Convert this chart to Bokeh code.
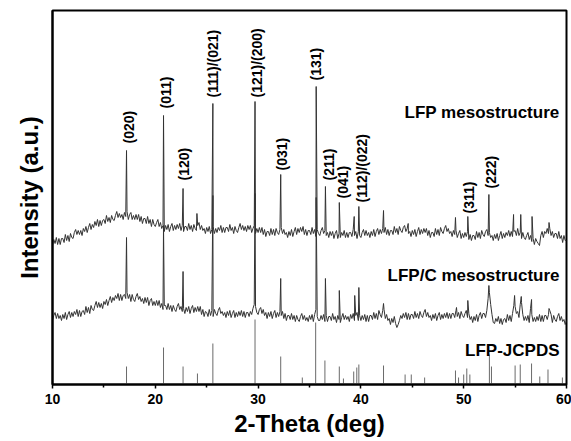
import numpy as np
from bokeh.plotting import figure
from bokeh.models import Range1d, ColumnDataSource, Label, FixedTicker
from bokeh.core.properties import value
from bokeh.embed import file_html
from bokeh.resources import INLINE

FONT = "Liberation Sans"

# 2-theta sampling grid (deg), step 0.125
two_theta = np.linspace(10, 60, 401)

# LFP mesostructure: background values on the grid (a.u.), one row per degree
lfp_base = [
    139, 145, 141, 147, 140, 146, 140, 146,
    146, 142, 150, 144, 149, 143, 151, 147,
    146, 152, 155, 150, 154, 150, 154, 149,
    156, 153, 158, 152, 157, 161, 155, 160,
    157, 163, 159, 165, 158, 164, 159, 164,
    165, 161, 169, 163, 167, 162, 169, 165,
    164, 169, 173, 167, 171, 167, 170, 165,
    172, 168, 173, 165, 170, 172, 165, 169,
    165, 170, 165, 170, 163, 168, 161, 166,
    166, 161, 168, 161, 165, 158, 165, 160,
    158, 162, 165, 158, 162, 156, 159, 153,
    159, 155, 160, 153, 158, 161, 154, 159,
    155, 160, 156, 161, 154, 159, 153, 158,
    158, 154, 161, 155, 159, 153, 160, 156,
    154, 159, 162, 155, 159, 154, 156, 151,
    157, 153, 158, 151, 155, 158, 151, 156,
    152, 157, 154, 159, 152, 157, 152, 157,
    157, 153, 160, 154, 157, 151, 158, 154,
    152, 157, 161, 155, 159, 154, 158, 153,
    159, 155, 159, 152, 156, 159, 151, 156,
    152, 157, 152, 157, 150, 155, 148, 153,
    153, 149, 156, 150, 155, 149, 156, 152,
    150, 155, 157, 151, 155, 150, 152, 147,
    153, 149, 155, 148, 153, 157, 150, 156,
    152, 157, 153, 158, 150, 155, 149, 154,
    154, 150, 157, 151, 155, 148, 155, 151,
    149, 154, 157, 151, 154, 149, 152, 147,
    153, 149, 153, 146, 151, 154, 146, 151,
    147, 152, 149, 154, 147, 152, 147, 152,
    152, 148, 155, 149, 153, 146, 153, 149,
    147, 152, 155, 149, 154, 149, 152, 147,
    153, 149, 155, 148, 153, 156, 150, 155,
    151, 156, 152, 157, 150, 155, 149, 154,
    154, 150, 158, 152, 156, 150, 158, 154,
    152, 157, 159, 153, 156, 151, 153, 148,
    154, 150, 155, 148, 153, 157, 150, 155,
    151, 156, 152, 156, 149, 154, 147, 152,
    152, 148, 156, 150, 155, 149, 157, 153,
    151, 156, 159, 153, 156, 151, 153, 148,
    154, 150, 154, 147, 151, 154, 146, 151,
    147, 152, 148, 153, 145, 150, 144, 149,
    149, 145, 153, 147, 152, 146, 154, 150,
    148, 153, 155, 149, 152, 147, 149, 144,
    150, 146, 151, 144, 149, 153, 146, 151,
    147, 152, 149, 154, 148, 153, 148, 153,
    154, 149, 156, 149, 152, 146, 152, 147,
    145, 149, 152, 145, 149, 143, 146, 140,
    146, 143, 141, 139, 149, 153, 147, 153,
    151, 156, 151, 156, 149, 153, 147, 151,
    151, 146, 153, 146, 149, 142, 149, 144,
    144,
]
# LFP mesostructure: reflections (deg, a.u.)
lfp_peak_x = [17.2, 20.8, 22.7, 24.05, 25.6, 29.7, 32.2, 35.65, 36.55, 37.9, 39.35,
              39.8, 42.2, 44.6, 49.2, 50.4, 52.45, 54.85, 55.55, 56.65, 58.3]
lfp_peak_y = [234, 269, 196, 171, 281, 283, 210, 298, 198, 182, 168,
              178, 174, 161, 167, 168, 190, 170, 170, 168, 162]

# LFP/C mesostructure: background values on the grid (a.u.), one row per degree
lfpc_base = [
    64, 69, 72, 66, 71, 66, 69, 64,
    70, 66, 72, 65, 70, 73, 67, 72,
    68, 73, 70, 75, 68, 74, 68, 73,
    74, 70, 78, 72, 77, 71, 79, 75,
    74, 79, 83, 77, 82, 77, 81, 76,
    83, 80, 85, 79, 84, 88, 82, 87,
    84, 89, 86, 91, 84, 90, 84, 89,
    90, 86, 92, 86, 90, 83, 90, 85,
    83, 88, 91, 85, 88, 83, 86, 81,
    87, 82, 87, 79, 84, 86, 79, 83,
    79, 84, 79, 84, 77, 81, 75, 79,
    79, 75, 81, 75, 79, 73, 79, 75,
    73, 78, 81, 75, 78, 73, 76, 71,
    77, 73, 78, 71, 76, 79, 72, 77,
    73, 78, 73, 78, 70, 75, 68, 73,
    72, 68, 75, 69, 74, 68, 75, 71,
    69, 74, 77, 71, 73, 69, 72, 67,
    73, 69, 74, 67, 71, 74, 67, 72,
    68, 73, 69, 74, 68, 73, 67, 72,
    72, 68, 73, 70, 76, 80, 78, 72,
    70, 75, 77, 71, 75, 69, 72, 66,
    72, 68, 73, 66, 71, 74, 67, 72,
    68, 73, 69, 73, 66, 71, 64, 69,
    69, 65, 71, 65, 69, 63, 69, 65,
    63, 68, 71, 65, 69, 64, 67, 63,
    69, 65, 70, 63, 70, 75, 68, 64,
    64, 69, 65, 70, 63, 69, 63, 68,
    68, 64, 71, 65, 68, 62, 69, 65,
    62, 67, 71, 65, 69, 65, 68, 63,
    70, 66, 71, 64, 69, 72, 64, 69,
    64, 69, 65, 70, 63, 69, 63, 69,
    69, 65, 72, 66, 71, 65, 74, 70,
    67, 74, 75, 66, 70, 64, 66, 60,
    66, 62, 68, 61, 57, 60, 64, 69,
    66, 71, 67, 72, 65, 71, 65, 70,
    70, 66, 73, 67, 71, 66, 73, 69,
    67, 72, 75, 68, 72, 67, 69, 64,
    70, 66, 71, 64, 69, 72, 65, 70,
    66, 71, 67, 72, 66, 71, 66, 71,
    71, 67, 74, 68, 72, 66, 73, 69,
    67, 71, 74, 67, 71, 65, 68, 62,
    68, 64, 70, 63, 69, 72, 66, 71,
    71, 67, 74, 86, 92, 80, 70, 62,
    61, 66, 63, 68, 61, 66, 60, 65,
    66, 62, 70, 64, 69, 63, 71, 79,
    78, 71, 73, 67, 80, 82, 70, 64,
    68, 64, 69, 62, 76, 70, 63, 67,
    63, 68, 64, 70, 63, 69, 63, 69,
    69, 65, 70, 74, 70, 62, 69, 65,
    63, 68, 71, 64, 68, 63, 65, 60,
    64,
]
# LFP/C mesostructure: reflections (deg, a.u.)
lfpc_peak_x = [17.2, 20.8, 22.7, 25.6, 29.7, 32.2, 35.65, 36.55, 37.9, 39.4, 39.8,
               42.2, 49.3, 50.4, 52.45, 54.95, 55.6, 56.6, 58.3]
lfpc_peak_y = [147, 159, 113, 189, 191, 106, 187, 106, 94, 89, 97,
               81, 77, 84, 99, 89, 88, 85, 76]

# LFP-JCPDS reference lines (deg, a.u.)
jcpds_x = [17.2, 20.8, 22.7, 24.1, 25.6, 29.7, 32.2, 34.3, 35.6, 36.5, 37.9, 38.3,
           39.3, 39.6, 39.8, 42.2, 44.3, 44.9, 46.2, 49.2, 49.5, 50.0, 50.3, 50.6,
           52.5, 52.7, 55.0, 55.5, 56.6, 57.4, 58.2, 59.6]
jcpds_y = [18, 37, 18, 11, 41, 65, 28, 7, 62, 24, 18, 6,
           13, 17, 20, 19, 10, 10, 7, 14, 7, 10, 16, 10,
           30, 18, 19, 20, 21, 8, 15, 7]

# Miller index labels
hkl_text = ["(020)", "(011)", "(120)", "(111)/(021)", "(121)/(200)", "(031)", "(131)",
            "(211)", "(041)", "(112)/(022)", "(311)", "(222)"]
hkl_x = [17.4, 21.0, 22.84, 25.66, 29.94, 32.28, 35.68, 36.85, 38.3, 40.06, 50.56, 52.7]
hkl_y = [241, 276, 204, 287, 287, 214, 304, 204, 186, 182, 171, 196]

series_names = ["LFP mesostructure", "LFP/C mesostructure", "LFP-JCPDS"]
series_label_y = [272, 109, 34]

assert len(lfp_base) == 401, len(lfp_base)
assert len(lfpc_base) == 401, len(lfpc_base)


def merge(xg, yg, xp, yp):
    x = np.concatenate([np.asarray(xg, float), np.asarray(xp, float)])
    y = np.concatenate([np.asarray(yg, float), np.asarray(yp, float)])
    o = np.argsort(x, kind="stable")
    return x[o], y[o]


x1, y1 = merge(two_theta, lfp_base, lfp_peak_x, lfp_peak_y)
x2, y2 = merge(two_theta, lfpc_base, lfpc_peak_x, lfpc_peak_y)

p = figure(width=571, height=441, output_backend="svg", toolbar_location=None,
           x_range=Range1d(10, 60), y_range=Range1d(0, 374),
           min_border_left=52, min_border_right=5, min_border_top=10,
           min_border_bottom=57)
p.background_fill_color = "white"
p.border_fill_color = "white"
p.outline_line_color = "black"
p.outline_line_width = 2
p.xgrid.visible = False
p.ygrid.visible = False

line_color = "#333333"
p.line(x1, y1, line_color=line_color, line_width=1)
p.line(x2, y2, line_color=line_color, line_width=1)
p.segment(x0=jcpds_x, y0=[0] * len(jcpds_x), x1=jcpds_x, y1=jcpds_y,
          line_color="#6a6a6a", line_width=1)

src = ColumnDataSource(dict(x=hkl_x, y=hkl_y, t=hkl_text))
p.text(x="x", y="y", text="t", source=src, angle=np.pi / 2,
       text_align="left", text_baseline="middle",
       text_font=value(FONT), text_font_style="bold", text_font_size="14px",
       text_color="black")

for name, yy in zip(series_names, series_label_y):
    p.add_layout(Label(x=59.32, y=yy, text=name, text_align="right",
                       text_baseline="alphabetic", text_font=FONT,
                       text_font_style="bold", text_font_size="17px",
                       text_color="black"))

# x axis
xa = p.xaxis[0]
xa.ticker = FixedTicker(ticks=[10, 20, 30, 40, 50, 60],
                        minor_ticks=[15, 25, 35, 45, 55])
xa.axis_label = "2-Theta (deg)"
xa.axis_label_text_font = FONT
xa.axis_label_text_font_style = "bold"
xa.axis_label_text_font_size = "24px"
xa.axis_label_text_color = "black"
xa.axis_label_standoff = 3
xa.major_label_text_font = FONT
xa.major_label_text_font_style = "bold"
xa.major_label_text_font_size = "14px"
xa.major_label_text_color = "black"
xa.major_label_standoff = 5
xa.axis_line_color = "black"
xa.axis_line_width = 2
xa.major_tick_line_color = "black"
xa.major_tick_line_width = 1.5
xa.major_tick_in = 0
xa.major_tick_out = 4
xa.minor_tick_line_color = "black"
xa.minor_tick_line_width = 1.5
xa.minor_tick_in = 0
xa.minor_tick_out = 3

# y axis: no ticks, only the title
ya = p.yaxis[0]
ya.ticker = FixedTicker(ticks=[], minor_ticks=[])
ya.axis_label = "Intensity (a.u.)"
ya.axis_label_text_font = FONT
ya.axis_label_text_font_style = "bold"
ya.axis_label_text_font_size = "24px"
ya.axis_label_text_color = "black"
ya.axis_label_standoff = 10
ya.major_label_standoff = 0
ya.major_tick_line_color = None
ya.minor_tick_line_color = None
ya.major_tick_out = 0
ya.minor_tick_out = 0
ya.axis_line_color = "black"
ya.axis_line_width = 2

open("out.html", "w").write(file_html(p, INLINE))
